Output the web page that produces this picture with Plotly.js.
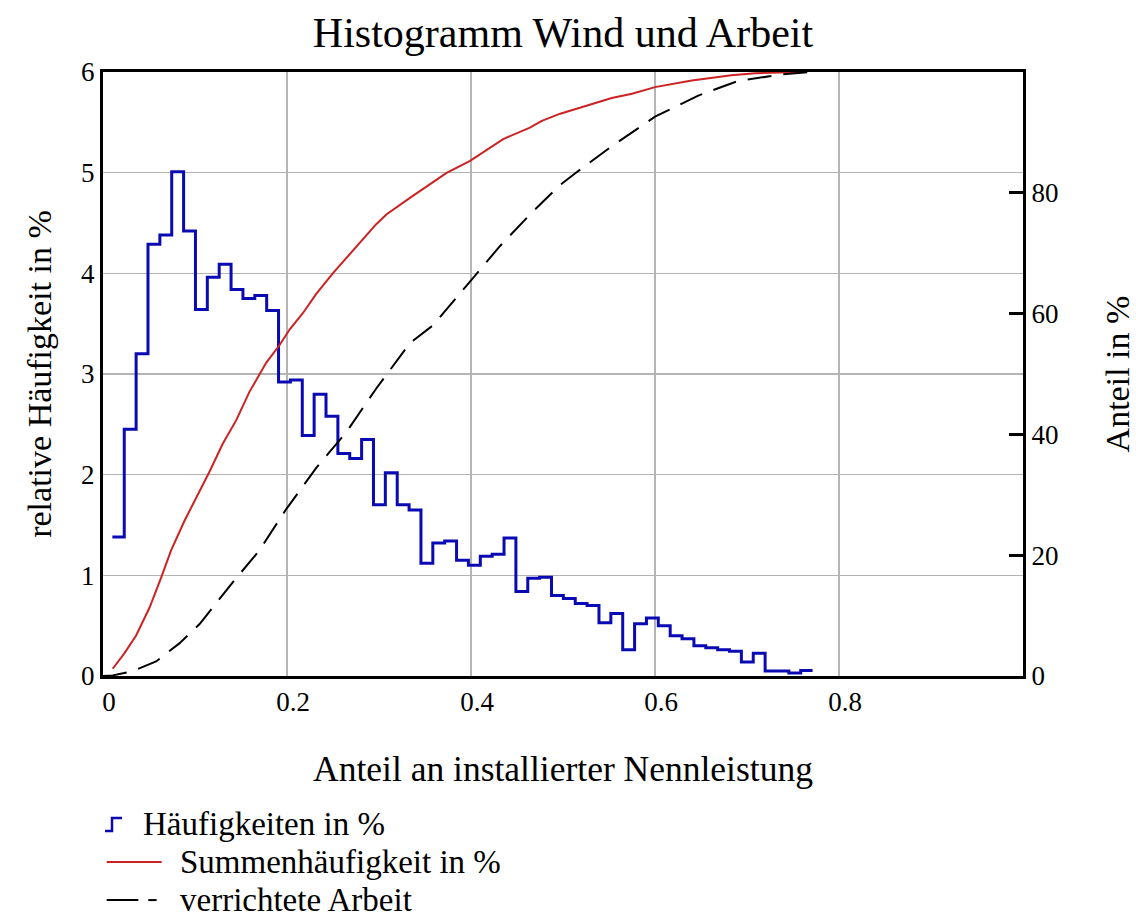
<!DOCTYPE html>
<html>
<head>
<meta charset="utf-8">
<script src="https://cdn.plot.ly/plotly-3.0.1.min.js"></script>
<style>html,body{margin:0;padding:0;background:#fff;}#chart{width:1136px;height:923px;}</style>
</head>
<body>
<div id="chart"></div>
<script>
// Histogram bin edges (share of installed capacity)
var binEdges = [0.0102,0.0231,0.0360,0.0489,0.0618,0.0747,0.0876,0.1005,0.1134,0.1263,
  0.1392,0.1521,0.1650,0.1779,0.1908,0.2037,0.2166,0.2295,0.2424,0.2553,
  0.2682,0.2811,0.2940,0.3069,0.3198,0.3327,0.3456,0.3585,0.3714,0.3843,
  0.3972,0.4101,0.4230,0.4359,0.4488,0.4617,0.4746,0.4875,0.5004,0.5133,
  0.5262,0.5391,0.5520,0.5649,0.5778,0.5907,0.6036,0.6165,0.6294,0.6423,
  0.6552,0.6681,0.6810,0.6939,0.7068,0.7197,0.7326,0.7455,0.7584,0.7713];
// Relative frequency per bin in %
var freq = [1.38,2.45,3.20,4.29,4.38,5.01,4.42,3.64,3.96,4.09,
  3.84,3.75,3.78,3.63,2.92,2.94,2.39,2.80,2.58,2.21,
  2.16,2.35,1.70,2.02,1.70,1.65,1.12,1.32,1.34,1.15,
  1.10,1.19,1.21,1.37,0.84,0.97,0.98,0.80,0.77,0.72,
  0.70,0.53,0.62,0.26,0.52,0.575,0.50,0.40,0.37,0.30,
  0.28,0.26,0.245,0.14,0.225,0.05,0.05,0.03,0.055];
// Cumulative frequency in %
var sumX = [0.0105,0.023,0.036,0.0505,0.063,0.074,0.0886,0.101,0.116,0.130,0.145,0.159,0.1775,0.192,0.203,0.2174,0.232,0.250,0.279,0.297,0.308,0.334,0.3735,0.399,0.435,0.464,0.477,0.497,0.521,0.553,0.575,0.600,0.640,0.683,0.709,0.741,0.756];
var sumY = [1.2,3.7,6.7,11.3,16.2,20.8,25.7,29.3,33.9,38.4,42.4,47.0,51.9,54.8,57.4,60.1,63.3,66.7,71.8,74.8,76.4,79.2,83.3,85.3,88.9,90.8,91.9,93.1,94.2,95.7,96.4,97.5,98.6,99.45,99.8,100,100];
// Work done in %
var workX = [0,0.0105,0.032,0.0577,0.083,0.105,0.141,0.170,0.199,0.232,0.2646,0.297,0.3336,0.359,0.395,0.4316,0.466,0.497,0.513,0.553,0.600,0.647,0.690,0.7375,0.77];
var workY = [0,0.1,0.8,2.4,5.4,8.6,15.5,20.8,27.6,34.5,40.4,47.6,55.1,58.1,64.6,71.2,76.7,81.3,83.2,87.7,92.6,96.1,98.5,99.6,100];

var xTicks = [0,0.2,0.4,0.6,0.8];
var xTickText = ['0','0.2','0.4','0.6','0.8'];
var y2Ticks = [0,20,40,60,80];

var names = ['Häufigkeiten in %','Summenhäufigkeit in %','verrichtete Arbeit'];

var stepY = freq.concat([freq[freq.length-1]]);

var FONT = 'Liberation Serif, Times New Roman, serif';
var BLUE = '#0a0ab4', RED = '#cc2222', BLACK = '#000000';

var traces = [
  {x: binEdges, y: stepY, type:'scatter', mode:'lines', name: names[0],
   line:{shape:'hv', color:BLUE, width:3}, yaxis:'y'},
  {x: sumX, y: sumY, type:'scatter', mode:'lines', name: names[1],
   line:{color:RED, width:2}, yaxis:'y2'},
  {x: workX, y: workY, type:'scatter', mode:'lines', name: names[2],
   line:{color:BLACK, width:2, dash:'24px,12px'}, yaxis:'y2'}
];

// Legend drawn below the plot (text + key symbols)
var legFont = {family:FONT, size:33, color:'#000'};
var annotations = [
  {text:names[0], xref:'paper', yref:'paper', x:0.0413, y:-0.245, xanchor:'left', yanchor:'middle', showarrow:false, font:legFont},
  {text:names[1], xref:'paper', yref:'paper', x:0.0815, y:-0.308, xanchor:'left', yanchor:'middle', showarrow:false, font:legFont},
  {text:names[2], xref:'paper', yref:'paper', x:0.0815, y:-0.371, xanchor:'left', yanchor:'middle', showarrow:false, font:legFont}
];
var shapes = [
  {type:'path', xref:'paper', yref:'paper', path:'M0.0022,-0.2566 L0.0098,-0.2566 L0.0098,-0.2351 L0.0207,-0.2351', line:{color:BLUE, width:2.5}},
  {type:'line', xref:'paper', yref:'paper', x0:0.004, x1:0.0638, y0:-0.308, y1:-0.308, line:{color:RED, width:2}},
  {type:'line', xref:'paper', yref:'paper', x0:0.004, x1:0.0384, y0:-0.371, y1:-0.371, line:{color:BLACK, width:2}},
  {type:'line', xref:'paper', yref:'paper', x0:0.0492, x1:0.0583, y0:-0.371, y1:-0.371, line:{color:BLACK, width:2}}
];

var layout = {
  width:1136, height:923,
  paper_bgcolor:'#ffffff', plot_bgcolor:'#ffffff',
  font:{family:FONT, color:'#000', size:27},
  margin:{l:103, r:113, t:72, b:247, autoexpand:false},
  title:{text:'Histogramm Wind und Arbeit', font:{family:FONT, size:42, color:'#000'},
    x:0.5, xref:'paper', y:0.965, yref:'container', yanchor:'middle'},
  showlegend:false,
  annotations: annotations,
  shapes: shapes,
  xaxis:{range:[0,1], tickvals:xTicks, ticktext:xTickText, showgrid:true, gridcolor:'#b4b4b4', gridwidth:1.5,
    zeroline:false, showline:true, linecolor:'#000', linewidth:3, mirror:true, ticks:'',
    tickfont:{family:FONT, size:27}, ticklabelshift:6,
    title:{text:'Anteil an installierter Nennleistung', font:{family:FONT, size:35.5}, standoff:40}},
  yaxis:{range:[0,6], dtick:1, showgrid:true, gridcolor:'#b4b4b4', gridwidth:1.5, zeroline:false,
    showline:true, linecolor:'#000', linewidth:3, mirror:true, ticks:'',
    tickfont:{family:FONT, size:27},
    title:{text:'relative Häufigkeit in %', font:{family:FONT, size:34}, standoff:20}},
  yaxis2:{range:[0,100], overlaying:'y', side:'right', tickvals:y2Ticks, showgrid:false, zeroline:false,
    showline:true, linecolor:'#000', linewidth:3, ticks:'inside', ticklen:14, tickwidth:3, tickcolor:'#000',
    tickfont:{family:FONT, size:27},
    title:{text:'Anteil in %', font:{family:FONT, size:34}, standoff:50}}
};

Plotly.newPlot('chart', traces, layout, {staticPlot:true, displayModeBar:false});
</script>
</body>
</html>
